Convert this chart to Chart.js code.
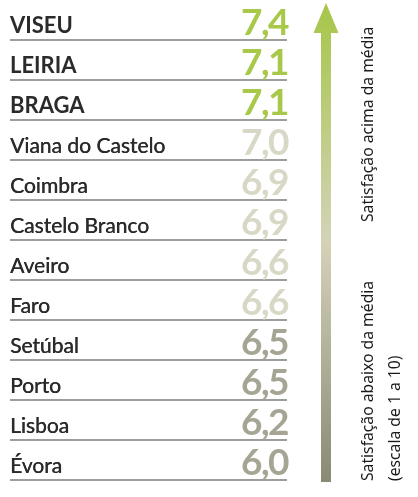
<!DOCTYPE html>
<html>
<head>
<meta charset="utf-8">
<script src="https://cdn.jsdelivr.net/npm/chart.js@4/dist/chart.umd.min.js"></script>
<style>
html,body{margin:0;padding:0;background:#fff;}
#wrap{width:418px;height:497px;}
</style>
</head>
<body>
<div id="wrap"><canvas id="c" width="418" height="497"></canvas></div>
<script>
const cities = ['VISEU','LEIRIA','BRAGA','Viana do Castelo','Coimbra','Castelo Branco','Aveiro','Faro','Setúbal','Porto','Lisboa','Évora'];
const values = [7.4,7.1,7.1,7.0,6.9,6.9,6.6,6.6,6.5,6.5,6.2,6.0];
const valueLabels = values.map(v => v.toFixed(1).replace('.', ','));
const upperNote = 'Satisfação acima da média';
const lowerNote = ['Satisfação abaixo da média', '(escala de 1 a 10)'];

function valueColor(v){
  if (v > 7.0) return '#a8c84a';
  if (v >= 6.6) return '#d9d8c6';
  return '#a6a493';
}

const tablePlugin = {
  id: 'tablePlugin',
  afterDraw(chart){
    const ctx = chart.ctx;
    const ys = chart.scales.y;
    const area = chart.chartArea;
    const half = (ys.getPixelForValue(1) - ys.getPixelForValue(0)) / 2;
    ctx.save();
    cities.forEach((name, i) => {
      const yc = ys.getPixelForValue(i);
      ctx.strokeStyle = '#7d7d7d';
      ctx.lineWidth = 1.5;
      ctx.beginPath();
      ctx.moveTo(area.left, yc + half);
      ctx.lineTo(area.right, yc + half);
      ctx.stroke();
      const bold = values[i] > 7.0;
      ctx.fillStyle = '#2b2b2b';
      ctx.textAlign = 'left';
      ctx.textBaseline = 'alphabetic';
      ctx.letterSpacing = '0px';
      ctx.font = bold ? '700 22px Lato' : '400 21px Lato';
      ctx.fillText(name, area.left, yc + 13);
      // faux-medium weight for regular names
      if (!bold) ctx.fillText(name, area.left + 0.4, yc + 13);
      ctx.fillStyle = valueColor(values[i]);
      ctx.textAlign = 'right';
      ctx.font = '700 37px Lato';
      ctx.letterSpacing = '-1.5px';
      ctx.fillText(valueLabels[i], area.right + 1, yc + 14.5);
      ctx.letterSpacing = '0px';
    });

    const ax = area.right + 39;
    const top = 3, headBase = 33, bottom = 482;
    const g = ctx.createLinearGradient(0, top, 0, bottom);
    g.addColorStop(0, '#a6c648');
    g.addColorStop(0.5, '#d4d3b8');
    g.addColorStop(1, '#8a8976');
    ctx.fillStyle = g;
    ctx.beginPath();
    ctx.moveTo(ax, top);
    ctx.lineTo(ax + 12.5, headBase);
    ctx.lineTo(ax + 5, headBase);
    ctx.lineTo(ax + 5, bottom);
    ctx.lineTo(ax - 5, bottom);
    ctx.lineTo(ax - 5, headBase);
    ctx.lineTo(ax - 12.5, headBase);
    ctx.closePath();
    ctx.fill();

    ctx.fillStyle = '#1a1a1a';
    ctx.font = '400 15.7px "Noto Sans"';
    ctx.textAlign = 'left';
    ctx.textBaseline = 'alphabetic';
    ctx.save();
    ctx.translate(ax + 47, 222);
    ctx.rotate(-Math.PI / 2);
    ctx.fillText(upperNote, 0, 0);
    ctx.restore();
    lowerNote.forEach((t, k) => {
      ctx.save();
      ctx.translate(ax + 47 + k * 27, 481);
      ctx.rotate(-Math.PI / 2);
      ctx.fillText(t, 0, 0);
      ctx.restore();
    });
    ctx.restore();
  }
};

new Chart(document.getElementById('c'), {
  type: 'bar',
  data: {
    labels: cities,
    datasets: [{ data: values, backgroundColor: 'rgba(0,0,0,0)', borderWidth: 0 }]
  },
  options: {
    indexAxis: 'y',
    responsive: false,
    animation: false,
    layout: { padding: { left: 10, right: 131, top: 0, bottom: 17 } },
    scales: {
      x: { display: false, min: 0, max: 10 },
      y: { display: false }
    },
    plugins: { legend: { display: false }, tooltip: { enabled: false } }
  },
  plugins: [tablePlugin]
});
</script>
</body>
</html>
